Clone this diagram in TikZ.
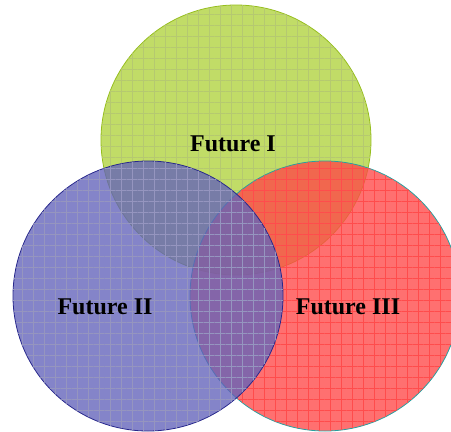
\documentclass[tikz,border=0pt]{standalone}
\usepackage{fontspec}
\setmainfont{Liberation Serif}
\usetikzlibrary{patterns.meta}

\definecolor{futgreen}{RGB}{176,210,60}
\definecolor{futgreenline}{RGB}{150,190,30}
\definecolor{futblue}{RGB}{98,98,186}
\definecolor{futblueline}{RGB}{40,40,140}
\definecolor{futred}{RGB}{255,72,72}
\definecolor{futredline}{RGB}{40,160,160}

\begin{document}
\begin{tikzpicture}[x=1pt, y=-1pt]
	\tikzstyle{every node}=[align=center, inner sep=1pt, font=\bfseries\fontsize{24}{28}\selectfont]
	\tikzstyle{venn}=[line width=0.8pt, fill opacity=0.78]
	\tikzstyle{weave}=[pattern={Hatch[distance=11pt, line width=0.3pt]}]
	\useasboundingbox (0,0) rectangle (451,432);
	\clip (0,0) rectangle (451,432);

	\coordinate (C1) at (236,140);
	\coordinate (C2) at (148,296);
	\coordinate (C3) at (325,296);

	% the three futures
	\draw[venn, draw=futgreenline, fill=futgreen] (C1) circle (135);
	\fill[weave, pattern color=futgreen!85!black!70!white] (C1) circle (135);
	\draw[venn, draw=futredline, fill=futred] (C3) circle (135);
	\fill[weave, pattern color=red!70!white] (C3) circle (135);
	\draw[venn, draw=futblueline, fill=futblue] (C2) circle (135);
	\fill[weave, pattern color=futblue!80!black!60!white] (C2) circle (135);

	\node (F1) at (233,144) {Future I};
	\node (F2) at (105,307) {Future II};
	\node (F3) at (348,307) {Future III};
\end{tikzpicture}
\end{document}
